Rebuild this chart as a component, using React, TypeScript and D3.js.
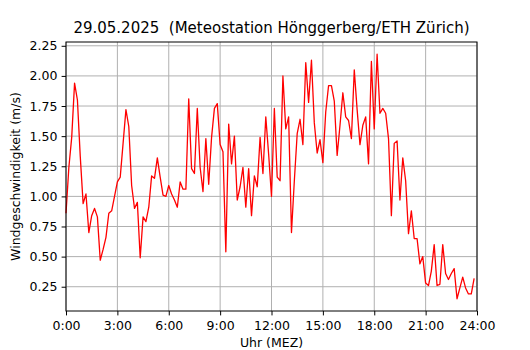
import React, { useRef, useEffect } from "react";
import * as d3 from "d3";

// wind speed (m/s), one value every 10 minutes from 0:00 to 23:50
const wind: number[] = [
  0.86, 1.24, 1.49, 1.94, 1.80, 1.33, 0.94, 1.02, 0.70, 0.84,
  0.90, 0.83, 0.47, 0.56, 0.66, 0.86, 0.88, 1.00, 1.12, 1.16,
  1.44, 1.72, 1.58, 1.09, 0.90, 0.95, 0.49, 0.83, 0.79, 0.91,
  1.17, 1.15, 1.32, 1.16, 1.01, 1.00, 1.09, 1.02, 0.97, 0.91,
  1.12, 1.06, 1.06, 1.81, 1.23, 1.19, 1.73, 1.24, 1.04, 1.48,
  1.10, 1.49, 1.73, 1.77, 1.43, 1.37, 0.54, 1.60, 1.27, 1.50,
  0.97, 1.08, 1.24, 0.91, 1.23, 0.84, 1.17, 1.08, 1.49, 1.19,
  1.66, 1.35, 1.00, 1.73, 1.16, 1.13, 2.00, 1.56, 1.66, 0.70,
  1.13, 1.52, 1.64, 1.43, 2.11, 1.78, 2.13, 1.61, 1.36, 1.47,
  1.28, 1.70, 1.92, 1.92, 1.79, 1.34, 1.59, 1.86, 1.66, 1.63,
  1.48, 2.05, 1.72, 1.43, 1.59, 1.66, 1.27, 2.12, 1.56, 2.18,
  1.69, 1.73, 1.69, 1.48, 0.84, 1.44, 1.46, 0.97, 1.32, 1.13,
  0.69, 0.88, 0.65, 0.65, 0.44, 0.50, 0.28, 0.26, 0.38, 0.60,
  0.26, 0.27, 0.60, 0.36, 0.31, 0.36, 0.40, 0.15, 0.24, 0.33,
  0.24, 0.19, 0.19, 0.32,
];
const hours = wind.map((_, i) => i / 6);
const xTicks = [0, 3, 6, 9, 12, 15, 18, 21, 24];
const yTicks = [0.25, 0.5, 0.75, 1.0, 1.25, 1.5, 1.75, 2.0, 2.25];
const title = "29.05.2025  (Meteostation Hönggerberg/ETH Zürich)";
const xLabel = "Uhr (MEZ)";
const yLabel = "Windgeschwindigkeit (m/s)";

const W = 530;
const H = 350;
const margin = { left: 66, right: 53, top: 42, bottom: 39 };

export default function App() {
  const svgRef = useRef<SVGSVGElement>(null);

  useEffect(() => {
    const svg = d3.select(svgRef.current);
    svg.selectAll("*").remove();
    const iw = W - margin.left - margin.right;
    const ih = H - margin.top - margin.bottom;
    const font = "DejaVu Sans, sans-serif";

    const [lo, hi] = d3.extent(wind) as [number, number];
    const pad = (hi - lo) * 0.05;
    const x = d3.scaleLinear().domain([0, 24]).range([0, iw]);
    const y = d3.scaleLinear().domain([lo - pad, hi + pad]).range([ih, 0]);

    const g = svg.append("g").attr("transform", `translate(${margin.left},${margin.top})`);

    // grid
    g.append("g")
      .selectAll("line")
      .data(xTicks)
      .join("line")
      .attr("x1", d => x(d)).attr("x2", d => x(d))
      .attr("y1", 0).attr("y2", ih)
      .attr("stroke", "#b0b0b0").attr("stroke-width", 1);
    g.append("g")
      .selectAll("line")
      .data(yTicks)
      .join("line")
      .attr("x1", 0).attr("x2", iw)
      .attr("y1", d => y(d)).attr("y2", d => y(d))
      .attr("stroke", "#b0b0b0").attr("stroke-width", 1);

    const myLine = d3.line<number>()
      .x((_, i) => x(hours[i]))
      .y(d => y(d));
    g.append("path")
      .datum(wind)
      .attr("d", myLine)
      .attr("fill", "none")
      .attr("stroke", "red")
      .attr("stroke-width", 1.3)
      .attr("stroke-linejoin", "round");

    // axes
    const xAxis = d3.axisBottom(x)
      .tickValues(xTicks)
      .tickFormat(d => `${d}:00`)
      .tickSize(4.4)
      .tickPadding(5.5);
    const gx = g.append("g").attr("transform", `translate(0,${ih})`).call(xAxis);
    const yAxis = d3.axisLeft(y)
      .tickValues(yTicks)
      .tickFormat(d3.format(".2f"))
      .tickSize(4.4)
      .tickPadding(4.2);
    const gy = g.append("g").call(yAxis);
    [gx, gy].forEach(a => {
      a.select(".domain").remove();
      a.selectAll("line").attr("stroke", "black").attr("stroke-width", 1);
      a.selectAll("text").attr("font-family", font).attr("font-size", 12.5).attr("fill", "black");
    });

    g.append("rect")
      .attr("width", iw).attr("height", ih)
      .attr("fill", "none").attr("stroke", "black").attr("stroke-width", 1);

    svg.append("text")
      .attr("x", margin.left + iw / 2).attr("y", 33)
      .attr("text-anchor", "middle")
      .attr("font-family", font).attr("font-size", 15)
      .style("white-space", "pre")
      .text(title);
    svg.append("text")
      .attr("x", margin.left + iw / 2).attr("y", 347)
      .attr("text-anchor", "middle")
      .attr("font-family", font).attr("font-size", 12.5)
      .text(xLabel);
    svg.append("text")
      .attr("transform", `translate(20,${margin.top + ih / 2}) rotate(-90)`)
      .attr("text-anchor", "middle")
      .attr("font-family", font).attr("font-size", 12.5)
      .text(yLabel);
  }, []);

  return (
    <svg ref={svgRef} width={W} height={H} style={{ position: "absolute", left: 0, top: 0, background: "white" }} />
  );
}
